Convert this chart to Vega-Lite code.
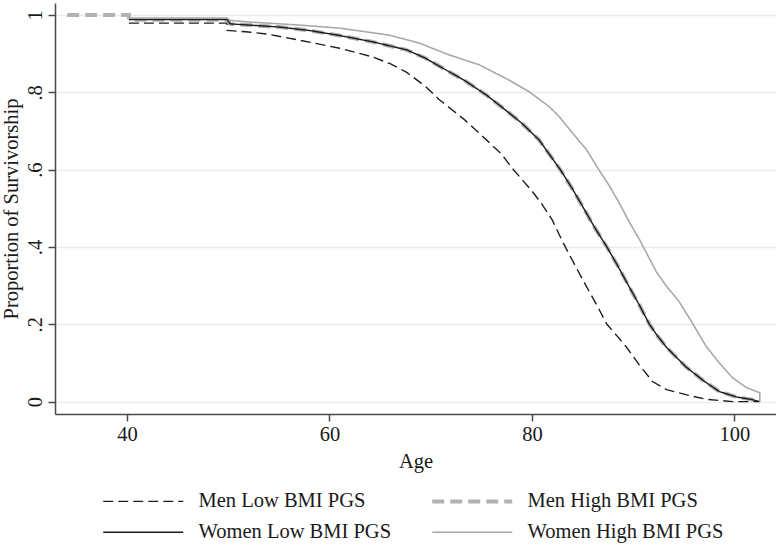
{
  "$schema": "https://vega.github.io/schema/vega-lite/v6.json",
  "width": 721,
  "height": 411,
  "autosize": "none",
  "padding": {"left": 55, "top": 3, "right": 0, "bottom": 131},
  "background": "white",
  "config": {
    "view": {"stroke": null},
    "font": "Liberation Serif",
    "axis": {"labelFont": "Liberation Serif", "titleFont": "Liberation Serif", "labelColor": "#1a1a1a", "titleColor": "#1a1a1a", "titleFontWeight": "normal", "domainColor": "#4a4a4a", "tickColor": "#4a4a4a", "domainWidth": 1.5, "tickWidth": 1.5},
    "legend": {"labelFont": "Liberation Serif", "labelColor": "#1a1a1a"}
  },
  "data": {
    "values": [
      {"s": "Men Low BMI PGS", "o": 1, "a": 40.2, "v": 0.979},
      {"s": "Men Low BMI PGS", "o": 2, "a": 49.9, "v": 0.979},
      {"s": "Men Low BMI PGS", "o": 3, "a": 49.9, "v": 0.96},
      {"s": "Men Low BMI PGS", "o": 4, "a": 52.0, "v": 0.956},
      {"s": "Men Low BMI PGS", "o": 5, "a": 54.0, "v": 0.95},
      {"s": "Men Low BMI PGS", "o": 6, "a": 57.0, "v": 0.935},
      {"s": "Men Low BMI PGS", "o": 7, "a": 61.0, "v": 0.914},
      {"s": "Men Low BMI PGS", "o": 8, "a": 64.2, "v": 0.892},
      {"s": "Men Low BMI PGS", "o": 9, "a": 66.0, "v": 0.874},
      {"s": "Men Low BMI PGS", "o": 10, "a": 67.6, "v": 0.852},
      {"s": "Men Low BMI PGS", "o": 11, "a": 69.5, "v": 0.815},
      {"s": "Men Low BMI PGS", "o": 12, "a": 70.8, "v": 0.782},
      {"s": "Men Low BMI PGS", "o": 13, "a": 72.1, "v": 0.755},
      {"s": "Men Low BMI PGS", "o": 14, "a": 73.3, "v": 0.73},
      {"s": "Men Low BMI PGS", "o": 15, "a": 75.5, "v": 0.677},
      {"s": "Men Low BMI PGS", "o": 16, "a": 77.0, "v": 0.64},
      {"s": "Men Low BMI PGS", "o": 17, "a": 78.0, "v": 0.605},
      {"s": "Men Low BMI PGS", "o": 18, "a": 79.0, "v": 0.575},
      {"s": "Men Low BMI PGS", "o": 19, "a": 80.0, "v": 0.545},
      {"s": "Men Low BMI PGS", "o": 20, "a": 81.0, "v": 0.51},
      {"s": "Men Low BMI PGS", "o": 21, "a": 82.0, "v": 0.47},
      {"s": "Men Low BMI PGS", "o": 22, "a": 83.1, "v": 0.41},
      {"s": "Men Low BMI PGS", "o": 23, "a": 84.2, "v": 0.355},
      {"s": "Men Low BMI PGS", "o": 24, "a": 85.4, "v": 0.297},
      {"s": "Men Low BMI PGS", "o": 25, "a": 86.4, "v": 0.25},
      {"s": "Men Low BMI PGS", "o": 26, "a": 87.4, "v": 0.2},
      {"s": "Men Low BMI PGS", "o": 27, "a": 88.4, "v": 0.17},
      {"s": "Men Low BMI PGS", "o": 28, "a": 89.3, "v": 0.142},
      {"s": "Men Low BMI PGS", "o": 29, "a": 90.6, "v": 0.095},
      {"s": "Men Low BMI PGS", "o": 30, "a": 91.9, "v": 0.052},
      {"s": "Men Low BMI PGS", "o": 31, "a": 93.3, "v": 0.031},
      {"s": "Men Low BMI PGS", "o": 32, "a": 95.2, "v": 0.018},
      {"s": "Men Low BMI PGS", "o": 33, "a": 97.2, "v": 0.006},
      {"s": "Men Low BMI PGS", "o": 34, "a": 99.8, "v": 0.0},
      {"s": "Men Low BMI PGS", "o": 35, "a": 102.4, "v": 0.0},

      {"s": "Men High BMI PGS", "o": 1, "a": 34.1, "v": 1.0},
      {"s": "Men High BMI PGS", "o": 2, "a": 40.2, "v": 1.0},
      {"s": "Men High BMI PGS", "o": 3, "a": 40.2, "v": 0.988},
      {"s": "Men High BMI PGS", "o": 4, "a": 49.9, "v": 0.988},
      {"s": "Men High BMI PGS", "o": 5, "a": 50.2, "v": 0.977},
      {"s": "Men High BMI PGS", "o": 6, "a": 52.0, "v": 0.974},
      {"s": "Men High BMI PGS", "o": 7, "a": 55.0, "v": 0.969},
      {"s": "Men High BMI PGS", "o": 8, "a": 58.0, "v": 0.96},
      {"s": "Men High BMI PGS", "o": 9, "a": 61.0, "v": 0.947},
      {"s": "Men High BMI PGS", "o": 10, "a": 64.2, "v": 0.931},
      {"s": "Men High BMI PGS", "o": 11, "a": 67.6, "v": 0.91},
      {"s": "Men High BMI PGS", "o": 12, "a": 69.5, "v": 0.888},
      {"s": "Men High BMI PGS", "o": 13, "a": 71.5, "v": 0.858},
      {"s": "Men High BMI PGS", "o": 14, "a": 73.5, "v": 0.828},
      {"s": "Men High BMI PGS", "o": 15, "a": 75.5, "v": 0.793},
      {"s": "Men High BMI PGS", "o": 16, "a": 77.4, "v": 0.754},
      {"s": "Men High BMI PGS", "o": 17, "a": 79.0, "v": 0.72},
      {"s": "Men High BMI PGS", "o": 18, "a": 80.7, "v": 0.677},
      {"s": "Men High BMI PGS", "o": 19, "a": 82.8, "v": 0.6},
      {"s": "Men High BMI PGS", "o": 20, "a": 84.0, "v": 0.55},
      {"s": "Men High BMI PGS", "o": 21, "a": 85.0, "v": 0.505},
      {"s": "Men High BMI PGS", "o": 22, "a": 86.2, "v": 0.45},
      {"s": "Men High BMI PGS", "o": 23, "a": 87.4, "v": 0.4},
      {"s": "Men High BMI PGS", "o": 24, "a": 88.5, "v": 0.35},
      {"s": "Men High BMI PGS", "o": 25, "a": 89.6, "v": 0.297},
      {"s": "Men High BMI PGS", "o": 26, "a": 90.6, "v": 0.25},
      {"s": "Men High BMI PGS", "o": 27, "a": 91.6, "v": 0.2},
      {"s": "Men High BMI PGS", "o": 28, "a": 92.4, "v": 0.17},
      {"s": "Men High BMI PGS", "o": 29, "a": 93.3, "v": 0.14},
      {"s": "Men High BMI PGS", "o": 30, "a": 95.2, "v": 0.09},
      {"s": "Men High BMI PGS", "o": 31, "a": 97.0, "v": 0.053},
      {"s": "Men High BMI PGS", "o": 32, "a": 98.5, "v": 0.026},
      {"s": "Men High BMI PGS", "o": 33, "a": 100.2, "v": 0.012},
      {"s": "Men High BMI PGS", "o": 34, "a": 101.8, "v": 0.005},
      {"s": "Men High BMI PGS", "o": 35, "a": 102.5, "v": 0.0},

      {"s": "Women Low BMI PGS", "o": 1, "a": 40.2, "v": 0.988},
      {"s": "Women Low BMI PGS", "o": 2, "a": 49.9, "v": 0.988},
      {"s": "Women Low BMI PGS", "o": 3, "a": 50.2, "v": 0.977},
      {"s": "Women Low BMI PGS", "o": 4, "a": 52.0, "v": 0.974},
      {"s": "Women Low BMI PGS", "o": 5, "a": 55.0, "v": 0.969},
      {"s": "Women Low BMI PGS", "o": 6, "a": 58.0, "v": 0.96},
      {"s": "Women Low BMI PGS", "o": 7, "a": 61.0, "v": 0.947},
      {"s": "Women Low BMI PGS", "o": 8, "a": 64.2, "v": 0.931},
      {"s": "Women Low BMI PGS", "o": 9, "a": 67.6, "v": 0.91},
      {"s": "Women Low BMI PGS", "o": 10, "a": 69.5, "v": 0.888},
      {"s": "Women Low BMI PGS", "o": 11, "a": 71.5, "v": 0.858},
      {"s": "Women Low BMI PGS", "o": 12, "a": 73.5, "v": 0.828},
      {"s": "Women Low BMI PGS", "o": 13, "a": 75.5, "v": 0.793},
      {"s": "Women Low BMI PGS", "o": 14, "a": 77.4, "v": 0.754},
      {"s": "Women Low BMI PGS", "o": 15, "a": 79.0, "v": 0.72},
      {"s": "Women Low BMI PGS", "o": 16, "a": 80.7, "v": 0.677},
      {"s": "Women Low BMI PGS", "o": 17, "a": 82.8, "v": 0.6},
      {"s": "Women Low BMI PGS", "o": 18, "a": 84.0, "v": 0.55},
      {"s": "Women Low BMI PGS", "o": 19, "a": 85.0, "v": 0.505},
      {"s": "Women Low BMI PGS", "o": 20, "a": 86.2, "v": 0.45},
      {"s": "Women Low BMI PGS", "o": 21, "a": 87.4, "v": 0.4},
      {"s": "Women Low BMI PGS", "o": 22, "a": 88.5, "v": 0.35},
      {"s": "Women Low BMI PGS", "o": 23, "a": 89.6, "v": 0.297},
      {"s": "Women Low BMI PGS", "o": 24, "a": 90.6, "v": 0.25},
      {"s": "Women Low BMI PGS", "o": 25, "a": 91.6, "v": 0.2},
      {"s": "Women Low BMI PGS", "o": 26, "a": 92.4, "v": 0.17},
      {"s": "Women Low BMI PGS", "o": 27, "a": 93.3, "v": 0.14},
      {"s": "Women Low BMI PGS", "o": 28, "a": 95.2, "v": 0.09},
      {"s": "Women Low BMI PGS", "o": 29, "a": 97.0, "v": 0.053},
      {"s": "Women Low BMI PGS", "o": 30, "a": 98.5, "v": 0.026},
      {"s": "Women Low BMI PGS", "o": 31, "a": 100.2, "v": 0.012},
      {"s": "Women Low BMI PGS", "o": 32, "a": 101.8, "v": 0.005},
      {"s": "Women Low BMI PGS", "o": 33, "a": 102.5, "v": 0.0},

      {"s": "Women High BMI PGS", "o": 1, "a": 40.2, "v": 0.992},
      {"s": "Women High BMI PGS", "o": 2, "a": 49.9, "v": 0.992},
      {"s": "Women High BMI PGS", "o": 3, "a": 50.2, "v": 0.986},
      {"s": "Women High BMI PGS", "o": 4, "a": 52.0, "v": 0.982},
      {"s": "Women High BMI PGS", "o": 5, "a": 57.0, "v": 0.974},
      {"s": "Women High BMI PGS", "o": 6, "a": 61.0, "v": 0.966},
      {"s": "Women High BMI PGS", "o": 7, "a": 65.9, "v": 0.948},
      {"s": "Women High BMI PGS", "o": 8, "a": 68.9, "v": 0.927},
      {"s": "Women High BMI PGS", "o": 9, "a": 71.8, "v": 0.897},
      {"s": "Women High BMI PGS", "o": 10, "a": 74.8, "v": 0.871},
      {"s": "Women High BMI PGS", "o": 11, "a": 77.7, "v": 0.832},
      {"s": "Women High BMI PGS", "o": 12, "a": 79.7, "v": 0.802},
      {"s": "Women High BMI PGS", "o": 13, "a": 81.7, "v": 0.763},
      {"s": "Women High BMI PGS", "o": 14, "a": 82.7, "v": 0.737},
      {"s": "Women High BMI PGS", "o": 15, "a": 84.0, "v": 0.695},
      {"s": "Women High BMI PGS", "o": 16, "a": 85.4, "v": 0.651},
      {"s": "Women High BMI PGS", "o": 17, "a": 86.6, "v": 0.6},
      {"s": "Women High BMI PGS", "o": 18, "a": 87.6, "v": 0.56},
      {"s": "Women High BMI PGS", "o": 19, "a": 88.6, "v": 0.515},
      {"s": "Women High BMI PGS", "o": 20, "a": 89.6, "v": 0.465},
      {"s": "Women High BMI PGS", "o": 21, "a": 90.6, "v": 0.42},
      {"s": "Women High BMI PGS", "o": 22, "a": 91.3, "v": 0.385},
      {"s": "Women High BMI PGS", "o": 23, "a": 92.3, "v": 0.335},
      {"s": "Women High BMI PGS", "o": 24, "a": 93.3, "v": 0.298},
      {"s": "Women High BMI PGS", "o": 25, "a": 94.5, "v": 0.26},
      {"s": "Women High BMI PGS", "o": 26, "a": 95.8, "v": 0.205},
      {"s": "Women High BMI PGS", "o": 27, "a": 97.2, "v": 0.143},
      {"s": "Women High BMI PGS", "o": 28, "a": 98.5, "v": 0.1},
      {"s": "Women High BMI PGS", "o": 29, "a": 99.8, "v": 0.062},
      {"s": "Women High BMI PGS", "o": 30, "a": 101.2, "v": 0.036},
      {"s": "Women High BMI PGS", "o": 31, "a": 102.5, "v": 0.023},
      {"s": "Women High BMI PGS", "o": 32, "a": 102.5, "v": 0.0}
    ]
  },
  "mark": {"type": "line", "strokeCap": "butt", "strokeJoin": "miter"},
  "encoding": {
    "x": {
      "field": "a", "type": "quantitative",
      "scale": {"domain": [32.9, 104.1], "nice": false, "zero": false},
      "axis": {"title": "Age", "values": [40, 60, 80, 100], "grid": false, "tickSize": 7, "labelFontSize": 20.5, "titleFontSize": 20.5, "labelPadding": 3, "titlePadding": 7, "labelFlush": false}
    },
    "y": {
      "field": "v", "type": "quantitative",
      "scale": {"domain": [-0.032, 1.031], "nice": false, "zero": false},
      "axis": {"title": "Proportion of Survivorship", "values": [0, 0.2, 0.4, 0.6, 0.8, 1], "labelExpr": "replace(format(datum.value, '.1~f'), '0.', '.')", "grid": true, "gridColor": "#ebebeb", "gridWidth": 1.5, "tickSize": 7, "labelFontSize": 20.5, "titleFontSize": 20.5, "labelAngle": -90, "labelAlign": "center", "labelBaseline": "bottom", "labelPadding": 3, "titlePadding": 4, "labelFlush": false}
    },
    "order": {"field": "o", "type": "quantitative"},
    "color": {
      "field": "s", "type": "nominal",
      "scale": {"domain": ["Men Low BMI PGS", "Men High BMI PGS", "Women Low BMI PGS", "Women High BMI PGS"], "range": ["#1e1e1e", "#b2b2b2", "#1a1a1a", "#a9a9a9"]},
      "legend": {"title": null, "orient": "none", "legendX": 43, "legendY": 488, "direction": "horizontal", "columns": 2, "symbolType": "M-1,0H15", "symbolSize": 100, "labelFontSize": 20.5, "labelLimit": 400, "labelOffset": 80, "rowPadding": 10, "columnPadding": 32, "padding": 0}
    },
    "strokeDash": {
      "field": "s", "type": "nominal",
      "scale": {"domain": ["Men Low BMI PGS", "Men High BMI PGS", "Women Low BMI PGS", "Women High BMI PGS"], "range": [[10, 5], [12, 6], [1, 0], [1, 0]]},
      "legend": {"title": null, "orient": "none", "legendX": 43, "legendY": 488, "direction": "horizontal", "columns": 2, "symbolType": "M-1,0H15", "symbolSize": 100, "labelFontSize": 20.5, "labelLimit": 400, "labelOffset": 80, "rowPadding": 10, "columnPadding": 32, "padding": 0}
    },
    "strokeWidth": {
      "field": "s", "type": "nominal",
      "scale": {"type": "ordinal", "domain": ["Men Low BMI PGS", "Men High BMI PGS", "Women Low BMI PGS", "Women High BMI PGS"], "range": [1.4, 4, 1.4, 1.6]},
      "legend": {"title": null, "orient": "none", "legendX": 43, "legendY": 488, "direction": "horizontal", "columns": 2, "symbolType": "M-1,0H15", "symbolSize": 100, "labelFontSize": 20.5, "labelLimit": 400, "labelOffset": 80, "rowPadding": 10, "columnPadding": 32, "padding": 0}
    }
  }
}
